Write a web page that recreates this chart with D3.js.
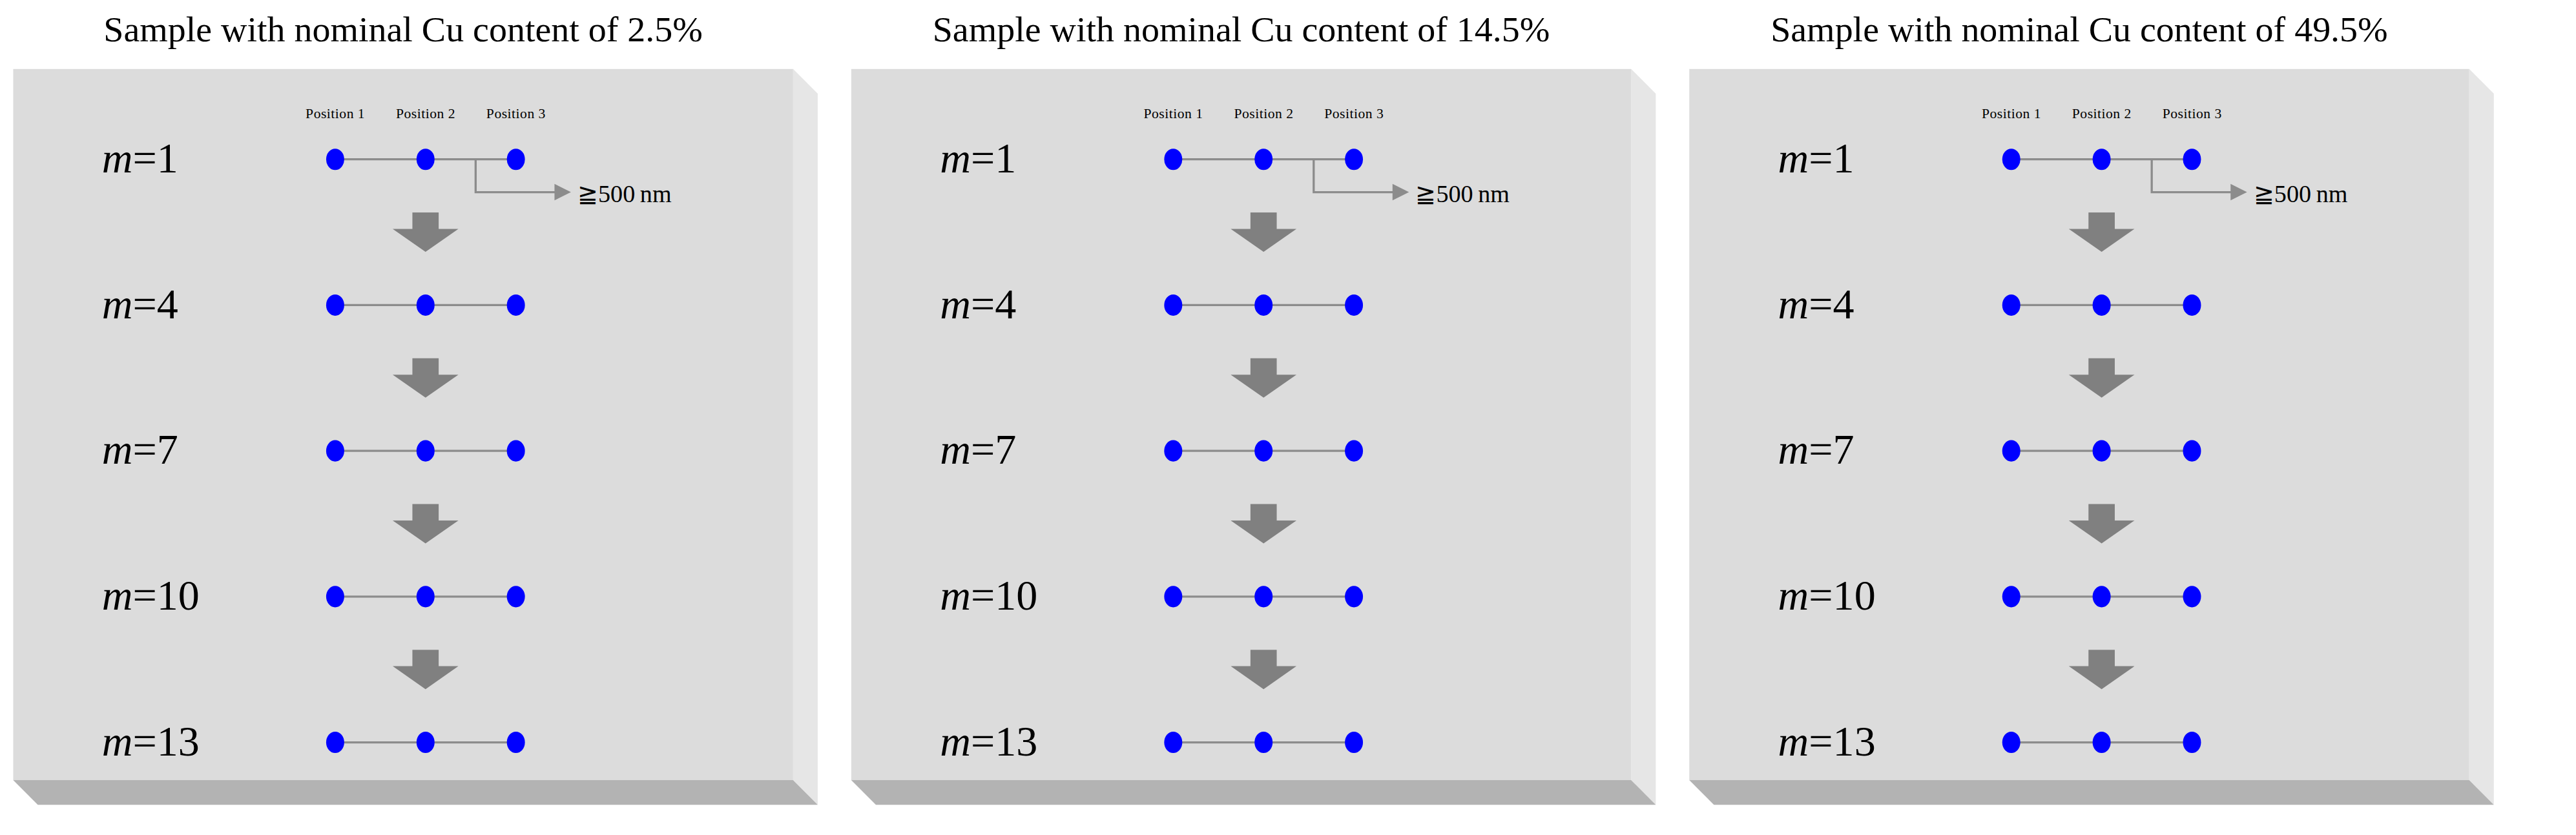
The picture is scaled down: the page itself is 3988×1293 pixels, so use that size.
<!DOCTYPE html>
<html>
<head>
<meta charset="utf-8">
<script src="https://cdn.jsdelivr.net/npm/d3@7.9.0/dist/d3.min.js"></script>
<style>
  body { margin: 0; background: #fff; }
  text { font-family: "Liberation Serif", "DejaVu Serif", serif; }
</style>
</head>
<body>
<svg id="chart"></svg>
<script>
const cuContents = ['2.5%', '14.5%', '49.5%'];
const mValues = [1, 4, 7, 10, 13];
const positions = ['Position 1', 'Position 2', 'Position 3'];
const spacingLabel = '\u2267500\u2009nm';

// layout in a 1568-wide frame, scaled up to the window
const W = 1568, H = 508.4;
const svg = d3.select('#chart')
  .attr('width', 3988).attr('height', 1293)
  .attr('viewBox', `0 0 ${W} ${H}`);

const panelX = d3.scaleBand().domain(cuContents).range([8, 1518]).paddingInner(0.04);
const rowY = d3.scalePoint().domain(mValues).range([97, 452]);

cuContents.forEach((cu, i) => {
  const x0 = panelX(cu), pw = panelX.bandwidth() - 15;
  const x1 = x0 + pw, top = 42, bot = 475, d = 15;
  const g = svg.append('g');

  g.append('polygon').attr('points', `${x1},${top} ${x1 + d},${top + d} ${x1 + d},${bot + d} ${x1},${bot}`).attr('fill', '#e6e6e6');
  g.append('polygon').attr('points', `${x0},${bot} ${x1},${bot} ${x1 + d},${bot + d} ${x0 + d},${bot + d}`).attr('fill', '#b3b3b3');
  g.append('rect').attr('x', x0).attr('y', top).attr('width', pw).attr('height', bot - top).attr('fill', '#dcdcdc');

  g.append('text').attr('x', x0 + pw / 2).attr('y', 25).attr('text-anchor', 'middle')
    .attr('font-size', 22).text(`Sample with nominal Cu content of ${cu}`);

  const px = d3.scalePoint().domain(positions).range([x0 + 196, x0 + 306]);

  positions.forEach(p => {
    g.append('text').attr('x', px(p)).attr('y', 72).attr('text-anchor', 'middle')
      .attr('font-size', 8.5).attr('textLength', 36).text(p);
  });

  mValues.forEach((m, j) => {
    const y = rowY(m);
    const lab = g.append('text').attr('x', x0 + 54).attr('y', y + 8).attr('font-size', 26);
    lab.append('tspan').attr('font-style', 'italic').text('m');
    lab.append('tspan').text(`=${m}`);

    g.append('line').attr('x1', px(positions[0])).attr('x2', px(positions[2]))
      .attr('y1', y).attr('y2', y).attr('stroke', '#8c8c8c').attr('stroke-width', 1.3);
    positions.forEach(p => {
      g.append('ellipse').attr('cx', px(p)).attr('cy', y).attr('rx', 5.5).attr('ry', 6.5).attr('fill', '#0000ff');
    });

    if (j === 0) {
      const bx = (px(positions[1]) + px(positions[2])) / 2 + 3;
      g.append('path').attr('d', `M${bx},${y} V${y + 20} H${bx + 50}`)
        .attr('fill', 'none').attr('stroke', '#8c8c8c').attr('stroke-width', 1.3);
      g.append('path').attr('d', `M${bx + 48},${y + 15} L${bx + 58},${y + 20} L${bx + 48},${y + 25} Z`).attr('fill', '#8c8c8c');
      g.append('text').attr('x', bx + 62).attr('y', y + 26).attr('font-size', 15).text(spacingLabel);
    }

    if (j < mValues.length - 1) {
      const ay = (y + rowY(mValues[j + 1])) / 2;
      const cx = px(positions[1]);
      g.append('path')
        .attr('d', `M${cx - 8},${ay - 12} H${cx + 8} V${ay - 2} H${cx + 20} L${cx},${ay + 12} L${cx - 20},${ay - 2} H${cx - 8} Z`)
        .attr('fill', '#808080');
    }
  });
});
</script>
</body>
</html>
